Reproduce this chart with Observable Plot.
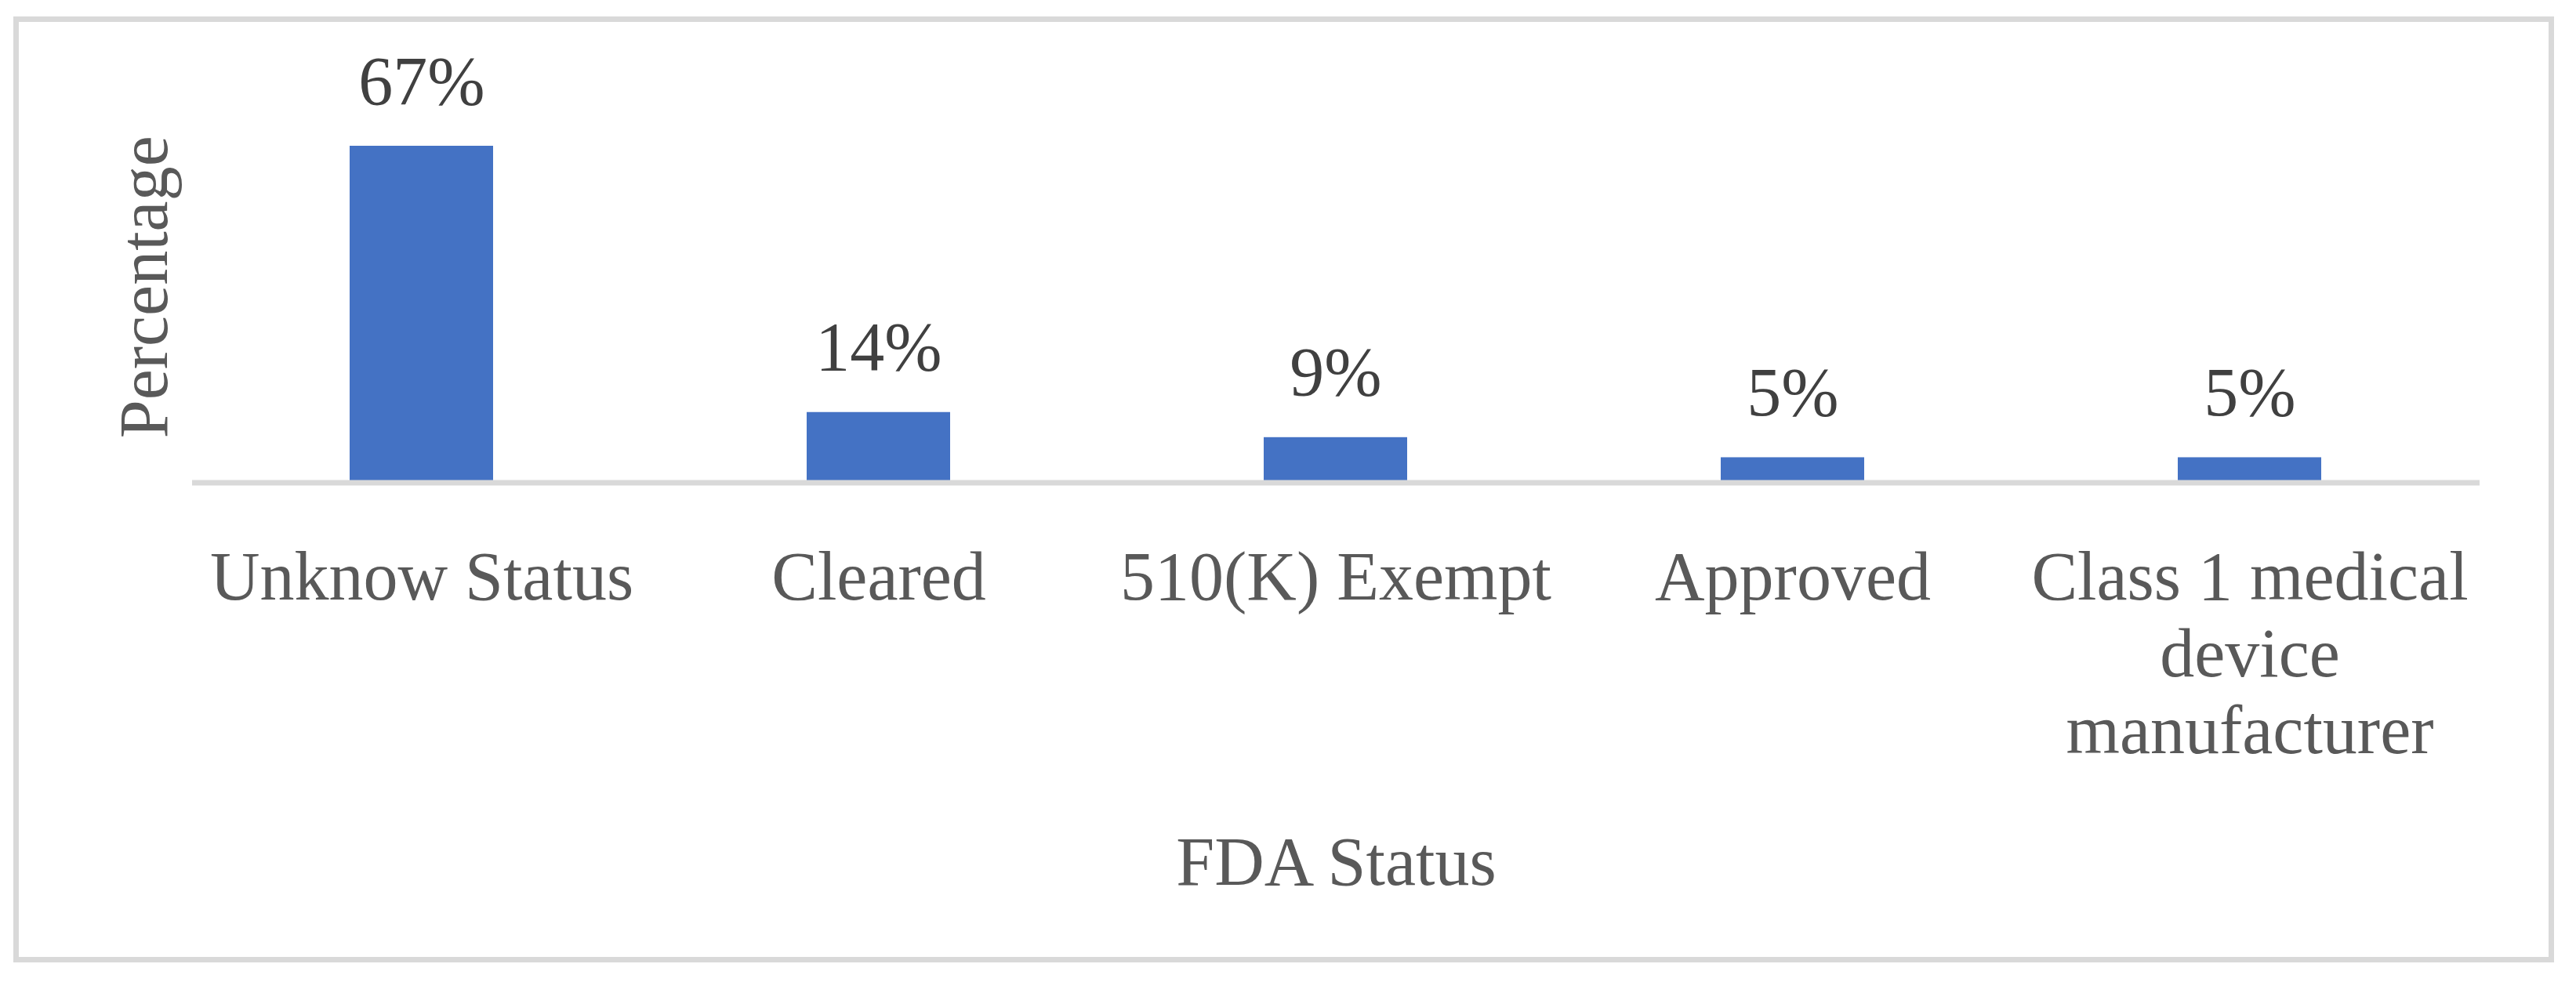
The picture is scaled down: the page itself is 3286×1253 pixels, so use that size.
<!DOCTYPE html>
<html>
<head>
<meta charset="utf-8">
<script src="https://cdn.jsdelivr.net/npm/d3@7"></script>
<script src="https://cdn.jsdelivr.net/npm/@observablehq/plot@0.6"></script>
<style>
html, body { margin: 0; padding: 0; background: #ffffff; }
#wrap { position: relative; width: 3286px; height: 1253px; overflow: hidden; }
#chart { position: absolute; left: 0; top: 0; }
#frame { position: absolute; left: 17px; top: 21px; width: 3241px; height: 1207px; border: 7px solid #d9d9d9; box-sizing: border-box; pointer-events: none; }
</style>
</head>
<body>
<div id="wrap"><div id="chart"></div><div id="frame"></div></div>
<script>
// Data
const categories = ["Unknow Status", "Cleared", "510(K) Exempt", "Approved", "Class 1 medical device manufacturer"];
const values = [67, 14, 9, 5, 5];
const valueLabels = ["67%", "14%", "9%", "5%", "5%"];
const tickLabels = ["Unknow Status", "Cleared", "510(K) Exempt", "Approved", "Class 1 medical\ndevice\nmanufacturer"];
const yTitle = "Percentage";
const xTitle = "FDA Status";

const data = categories.map((c, i) => ({category: c, value: values[i], label: valueLabels[i]}));

const textColor = "#595959";
const fontSize = 88;

const chart = Plot.plot({
  width: 3286,
  height: 1253,
  marginLeft: 245,
  marginRight: 123,
  marginTop: 186,
  marginBottom: 637.5,
  style: {fontFamily: "'Liberation Serif', serif", background: "transparent"},
  x: {type: "band", domain: categories, paddingInner: 0.686, paddingOuter: 0.343},
  y: {domain: [0, d3.max(values)], axis: null},
  marks: [
    Plot.barY(data, {x: "category", y: "value", fill: "#4472C4"}),
    Plot.ruleY([0], {stroke: "#d9d9d9", strokeWidth: 7}),
    Plot.text(data, {x: "category", y: "value", text: "label", lineAnchor: "bottom", dy: -54, fontSize: fontSize, fill: "#404040"}),
    Plot.axisX({
      tickSize: 0,
      tickPadding: 80,
      fontSize: fontSize,
      lineHeight: 1.11,
      color: textColor,
      label: null,
      tickFormat: d => tickLabels[categories.indexOf(d)]
    }),
    Plot.text([xTitle], {frameAnchor: "bottom", textAnchor: "middle", lineAnchor: "bottom", dy: 512.5, fontSize: fontSize, fill: textColor}),
    Plot.text([yTitle], {frameAnchor: "left", rotate: -90, textAnchor: "middle", lineAnchor: "bottom", dx: -33, dy: -35, fontSize: fontSize, fill: textColor})
  ]
});

document.getElementById("chart").appendChild(chart);
</script>
</body>
</html>
